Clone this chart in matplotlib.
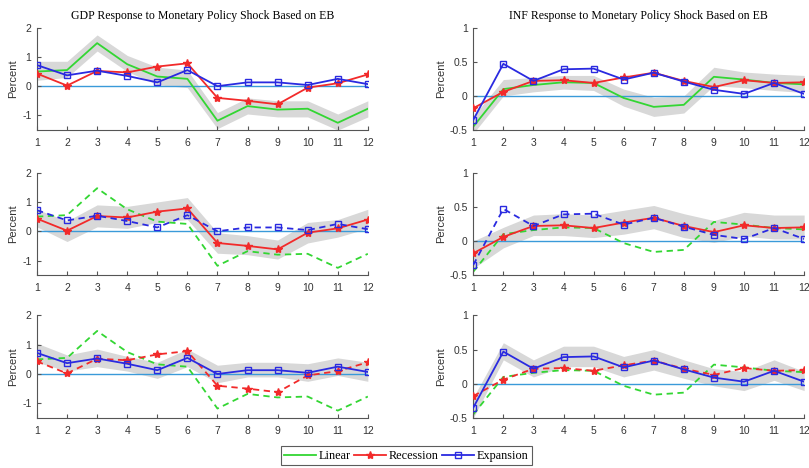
import numpy as np
import matplotlib
matplotlib.use("Agg")
import matplotlib.pyplot as plt
from matplotlib.lines import Line2D

# horizons
h = list(range(1, 13))

# --- GDP responses ---
gdp_lin = [0.50, 0.55, 1.47, 0.75, 0.33, 0.25, -1.18, -0.68, -0.80, -0.77, -1.25, -0.77]
gdp_rec = [0.43, 0.02, 0.52, 0.47, 0.67, 0.78, -0.40, -0.50, -0.62, -0.05, 0.10, 0.40]
gdp_exp = [0.72, 0.37, 0.53, 0.35, 0.13, 0.55, 0.00, 0.13, 0.13, 0.04, 0.25, 0.07]

gdp_lin_hi = [0.85, 0.85, 1.75, 1.05, 0.65, 0.55, -0.90, -0.40, -0.50, -0.50, -0.95, -0.50]
gdp_lin_lo = [0.20, 0.30, 1.20, 0.50, 0.05, -0.05, -1.45, -0.95, -1.05, -1.05, -1.50, -1.05]
gdp_rec_hi = [0.75, 0.35, 0.90, 0.85, 1.00, 1.15, -0.05, -0.15, -0.30, 0.30, 0.40, 0.75]
gdp_rec_lo = [0.15, -0.35, 0.15, 0.10, 0.30, 0.40, -0.75, -0.80, -0.95, -0.40, -0.20, 0.10]
gdp_exp_hi = [1.05, 0.65, 0.85, 0.60, 0.40, 0.85, 0.30, 0.40, 0.40, 0.35, 0.55, 0.40]
gdp_exp_lo = [0.40, 0.10, 0.25, 0.10, -0.15, 0.25, -0.30, -0.10, -0.10, -0.25, -0.05, -0.25]

# --- INF responses ---
inf_lin = [-0.45, 0.10, 0.16, 0.20, 0.19, -0.03, -0.16, -0.13, 0.28, 0.24, 0.19, 0.17]
inf_rec = [-0.18, 0.06, 0.22, 0.23, 0.19, 0.27, 0.34, 0.22, 0.13, 0.23, 0.19, 0.20]
inf_exp = [-0.35, 0.47, 0.22, 0.39, 0.40, 0.24, 0.34, 0.21, 0.09, 0.03, 0.19, 0.03]

inf_lin_hi = [-0.30, 0.24, 0.27, 0.30, 0.30, 0.10, -0.02, 0.00, 0.42, 0.35, 0.32, 0.30]
inf_lin_lo = [-0.55, 0.00, 0.06, 0.10, 0.08, -0.15, -0.30, -0.25, 0.15, 0.12, 0.08, 0.05]
inf_rec_hi = [0.00, 0.20, 0.38, 0.40, 0.38, 0.45, 0.52, 0.40, 0.30, 0.42, 0.38, 0.38]
inf_rec_lo = [-0.40, -0.10, 0.08, 0.08, 0.05, 0.10, 0.18, 0.05, -0.02, 0.07, 0.03, 0.03]
inf_exp_hi = [-0.20, 0.60, 0.35, 0.55, 0.55, 0.40, 0.50, 0.35, 0.22, 0.18, 0.35, 0.18]
inf_exp_lo = [-0.50, 0.35, 0.10, 0.25, 0.25, 0.10, 0.20, 0.08, -0.03, -0.10, 0.05, -0.10]

GREEN = "#33d633"
RED = "#f22a2a"
BLUE = "#2a2ae0"
ZERO = "#3a9ad9"
BAND = "#d8d8d8"

serif = "Liberation Serif"
sans = "Liberation Sans"

fig = plt.figure(figsize=(8.09, 4.68), dpi=100)

lefts = [0.0457, 0.585]
bottoms = [0.722, 0.412, 0.107]
w, hgt = 0.409, 0.219


def draw(ax, lin, rec, exp, band_hi, band_lo, main, ylim, yticks, ylabels):
    ax.fill_between(h, band_lo, band_hi, color=BAND, lw=0, zorder=0)
    ax.axhline(0, color=ZERO, lw=1.0, zorder=1)
    sty = {"lin": "-", "rec": "-", "exp": "-"}
    if main != "lin":
        for k in sty:
            sty[k] = "-" if k == main else (0, (3.5, 2.5))
    ax.plot(h, lin, color=GREEN, ls=sty["lin"], lw=1.3, zorder=2)
    ax.plot(h, rec, color=RED, ls=sty["rec"], lw=1.3, marker="*", ms=6,
            mec=RED, mfc=RED, zorder=3)
    ax.plot(h, exp, color=BLUE, ls=sty["exp"], lw=1.3, marker="s", ms=5,
            mec=BLUE, mfc="none", zorder=4)
    ax.set_xlim(1, 12)
    ax.set_ylim(*ylim)
    ax.set_xticks(h)
    ax.set_yticks(yticks)
    ax.set_yticklabels(ylabels)
    for s in ["top", "right"]:
        ax.spines[s].set_visible(False)
    for s in ["left", "bottom"]:
        ax.spines[s].set_color("#555555")
        ax.spines[s].set_linewidth(0.8)
    ax.tick_params(direction="in", length=3, width=0.8, color="#555555",
                   labelsize=7.5, labelcolor="#333333", pad=4)
    ax.tick_params(axis="x", pad=5.5)
    for t in ax.get_xticklabels() + ax.get_yticklabels():
        t.set_fontfamily(sans)
    ax.set_ylabel("Percent", fontsize=8, family=sans, color="#333333", labelpad=3)


gdp_sets = [
    (gdp_lin_hi, gdp_lin_lo, "lin"),
    (gdp_rec_hi, gdp_rec_lo, "rec"),
    (gdp_exp_hi, gdp_exp_lo, "exp"),
]
inf_sets = [
    (inf_lin_hi, inf_lin_lo, "lin"),
    (inf_rec_hi, inf_rec_lo, "rec"),
    (inf_exp_hi, inf_exp_lo, "exp"),
]

for i in range(3):
    ax = fig.add_axes([lefts[0], bottoms[i], w, hgt])
    hi, lo, main = gdp_sets[i]
    draw(ax, gdp_lin, gdp_rec, gdp_exp, hi, lo, main, (-1.5, 2),
         [-1, 0, 1, 2], ["-1", "0", "1", "2"])
    if i == 0:
        ax.set_title("GDP Response to Monetary Policy Shock Based on EB",
                     fontsize=8.5, family=serif, pad=6)

    ax = fig.add_axes([lefts[1], bottoms[i], w, hgt])
    hi, lo, main = inf_sets[i]
    draw(ax, inf_lin, inf_rec, inf_exp, hi, lo, main, (-0.5, 1),
         [-0.5, 0, 0.5, 1], ["-0.5", "0", "0.5", "1"])
    if i == 0:
        ax.set_title("INF Response to Monetary Policy Shock Based on EB",
                     fontsize=8.5, family=serif, pad=6)

handles = [
    Line2D([], [], color=GREEN, lw=1.3),
    Line2D([], [], color=RED, lw=1.3, marker="*", ms=6),
    Line2D([], [], color=BLUE, lw=1.3, marker="s", ms=4, mfc="none"),
]
leg = fig.legend(handles, ["Linear", "Recession", "Expansion"], loc="center",
                 bbox_to_anchor=(0.502, 0.026), ncol=3, frameon=True,
                 fancybox=False, edgecolor="#333333", handlelength=2.6,
                 columnspacing=0.3, handletextpad=0.2, borderpad=0.3,
                 borderaxespad=0, prop={"family": serif, "size": 8.8})
leg.get_frame().set_linewidth(0.8)

fig.savefig("out.png", dpi=100)
